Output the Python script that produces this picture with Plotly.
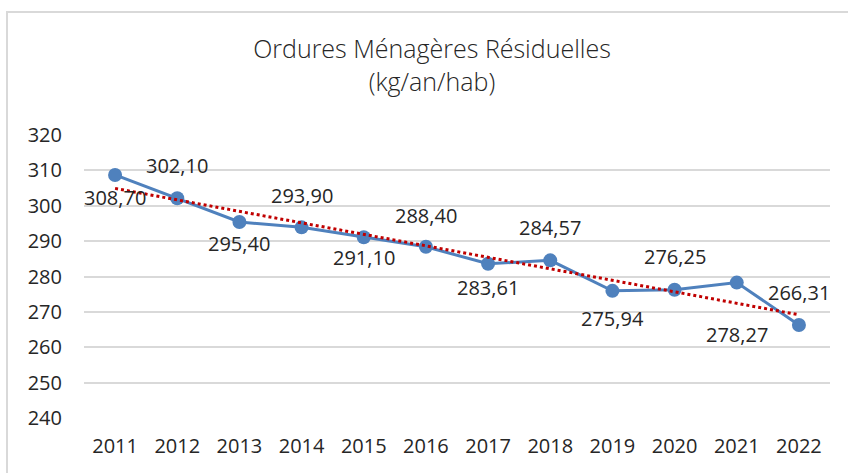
import numpy as np
import plotly.graph_objects as go

years = ["2011", "2012", "2013", "2014", "2015", "2016", "2017", "2018", "2019", "2020", "2021", "2022"]
values = [308.70, 302.10, 295.40, 293.90, 291.10, 288.40, 283.61, 284.57, 275.94, 276.25, 278.27, 266.31]
labels = ["308,70", "302,10", "295,40", "293,90", "291,10", "288,40", "283,61", "284,57", "275,94", "276,25", "278,27", "266,31"]
y_ticks = [240, 250, 260, 270, 280, 290, 300, 310, 320]

# label vertical offsets in pixels (positive = below the point)
label_offsets = [23, -33, 21, -32, 20, -31, 24, -33, 28, -33, 52, -32]

# linear trend line
idx = np.arange(len(values))
slope, intercept = np.polyfit(idx, values, 1)
trend = slope * idx + intercept

FONT = "Open Sans"
W, H = 848, 473
L, R, T, B = 84, 18, 135, 55

fig = go.Figure()
fig.add_trace(go.Scatter(
    x=years, y=values, mode="lines+markers",
    line=dict(color="#4F81BD", width=3),
    marker=dict(color="#4F81BD", size=14),
    showlegend=False, hoverinfo="skip",
))
fig.add_trace(go.Scatter(
    x=years, y=trend, mode="lines",
    line=dict(color="#C00000", width=3, dash="dot"),
    showlegend=False, hoverinfo="skip",
))

for i, (v, lab, off) in enumerate(zip(values, labels, label_offsets)):
    fig.add_annotation(x=i, y=v, text=lab, showarrow=False,
                       yshift=-off, font=dict(family=FONT, size=20, color="#262626"))

pw = W - L - R
ph = H - T - B
fig.add_shape(type="rect", xref="paper", yref="paper",
              x0=(7 - L) / pw, x1=(W + 20 - L) / pw,
              y0=-(H + 20 - T - ph) / ph, y1=1 + (T - 12) / ph,
              line=dict(color="#D9D9D9", width=2), layer="below")

fig.update_layout(
    width=W, height=H,
    margin=dict(l=L, r=R, t=T, b=B),
    paper_bgcolor="white", plot_bgcolor="white",
    title=dict(text="Ordures Ménagères Résiduelles<br>(kg/an/hab)",
               x=(432 - L) / pw, xref="paper", xanchor="center",
               y=1 - 58 / H, yanchor="top",
               font=dict(family=FONT, size=25, color="#262626", weight=300)),
    xaxis=dict(type="category", range=[-0.5, 11.5], showgrid=False, zeroline=False,
               showline=False, ticks="", ticklabelstandoff=14,
               tickfont=dict(family=FONT, size=20, color="#262626")),
    yaxis=dict(range=[240, 320], tickvals=y_ticks, showgrid=True, gridcolor="#D9D9D9",
               gridwidth=1.5, zeroline=False, showline=False, ticks="",
               ticklabelstandoff=21,
               tickfont=dict(family=FONT, size=20, color="#262626")),
)

fig.write_html("out.html", config={"displayModeBar": False},
               post_script="document.body.style.margin='0';")
